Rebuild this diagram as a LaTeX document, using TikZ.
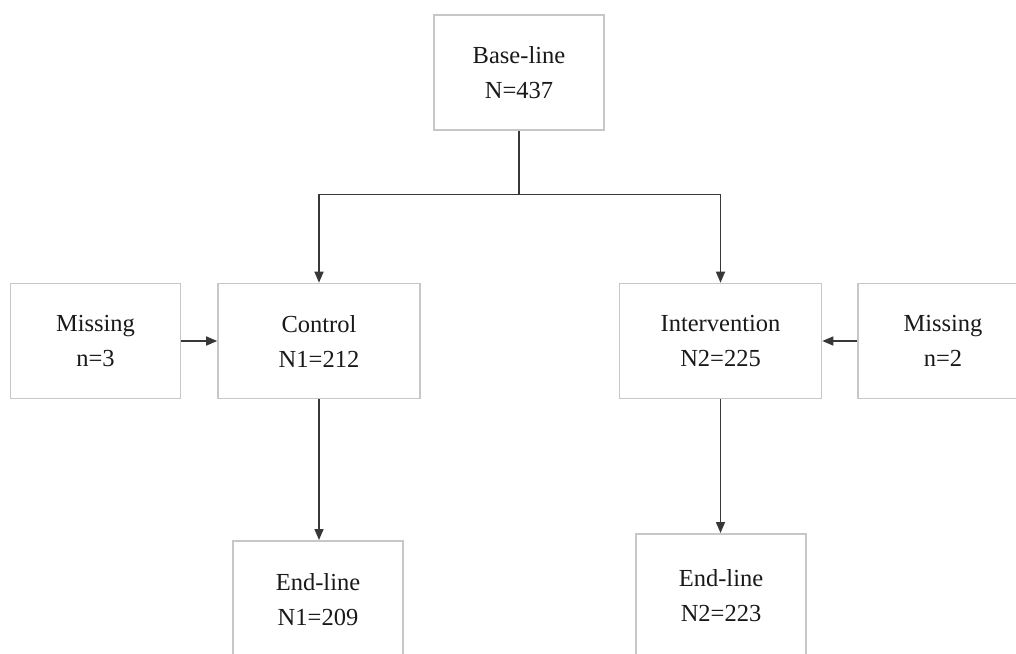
\documentclass[tikz,border=0pt]{standalone}
\usepackage{fontspec}
\setmainfont{Liberation Serif}
\usetikzlibrary{arrows.meta}
\tikzset{
  box/.style={draw=black!22, line width=1.6pt, fill=white, rectangle,
    minimum width=170pt, minimum height=115pt, align=center, inner sep=0pt,
    font=\fontsize{24.5}{35}\selectfont, text=black!90},
  wide/.style={minimum width=202pt},
  conn/.style={draw=black!78, line width=1.5pt},
  arr/.style={conn, -{Triangle[length=11pt,width=9pt]}}
}
\begin{document}
\begin{tikzpicture}[x=1pt,y=-1pt]
\clip (0,0) rectangle (1016,653);
\fill[white] (0,0) rectangle (1016,653);
\node[box] (base) at (519,72.5) {Base-line\\N=437};
\node[box] (miss1) at (95.5,341) {Missing\\n=3};
\node[box,wide] (control) at (319,341) {Control\\N1=212};
\node[box,wide] (interv) at (720.5,341) {Intervention\\N2=225};
\node[box] (miss2) at (943,341) {Missing\\n=2};
\node[box,minimum height=118pt,anchor=north] (end1) at (318,540) {End-line\\N1=209};
\node[box,minimum height=124pt,anchor=north] (end2) at (721,533) {End-line\\N2=223};
\coordinate (split) at (519,194.5);
\draw[conn] (base.south) -- (split);
\draw[arr] (split) -| (control.north);
\draw[arr] (split) -| (interv.north);
\draw[arr] (miss1.east) -- (control.west);
\draw[arr] (miss2.west) -- (interv.east);
\draw[arr] (control.south) -- (control.south |- end1.north);
\draw[arr] (interv.south) -- (interv.south |- end2.north);
\end{tikzpicture}
\end{document}
